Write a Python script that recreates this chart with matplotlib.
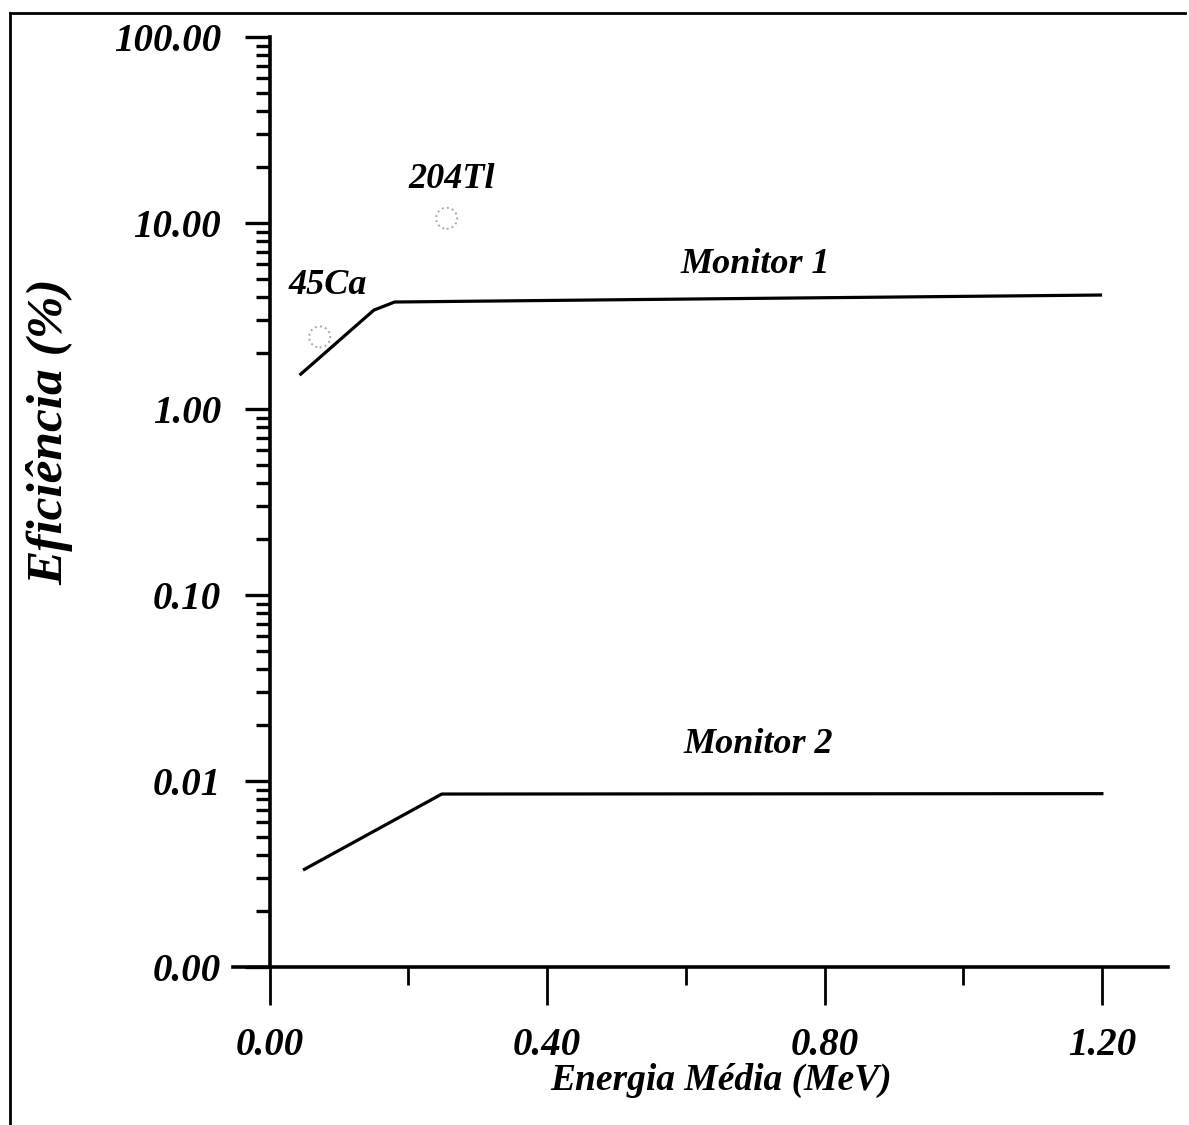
import matplotlib
matplotlib.use("Agg")
import matplotlib.pyplot as plt
from matplotlib.lines import Line2D
from matplotlib.ticker import FixedLocator, LogLocator, NullFormatter

# ---- data ----
m1_x = [0.043, 0.150, 0.180, 0.60, 1.20]
m1_y = [1.52, 3.40, 3.76, 3.90, 4.10]
m2_x = [0.048, 0.248, 0.70, 1.202]
m2_y = [0.00332, 0.00851, 0.00853, 0.00855]
pts_x = [0.072, 0.255]
pts_y = [2.44, 10.6]
pts_labels = ["45Ca", "204Tl"]
xticks = [0.0, 0.4, 0.8, 1.2]
xtick_labels = ["0.00", "0.40", "0.80", "1.20"]
yticks = [0.001, 0.01, 0.1, 1, 10, 100]
ytick_labels = ["0.00", "0.01", "0.10", "1.00", "10.00", "100.00"]
series_labels = ["Monitor 1", "Monitor 2"]

FONT = "Liberation Serif"
fkw = dict(family=FONT, weight="bold", style="italic")

fig = plt.figure(figsize=(11.89, 11.25), dpi=100)
ax = fig.add_axes([233/1189, 1-967/1125, (1168-233)/1189, (967-37)/1125])

ax.set_yscale("log")
ax.set_xlim(-0.053, 1.295)
ax.set_ylim(0.001, 100)

ax.plot(m1_x, m1_y, color="black", lw=2.3, solid_capstyle="butt", solid_joinstyle="round")
ax.plot(m2_x, m2_y, color="black", lw=2.3, solid_capstyle="butt")
ax.scatter(pts_x, pts_y, s=230, facecolors="none", edgecolors="#a8a8a8",
           linestyles=":", linewidths=1.4, zorder=3)

# annotations
ax.text(0.700, 4.85, series_labels[0], fontsize=26, ha="center", va="bottom", **fkw)
ax.text(0.704, 0.0128, series_labels[1], fontsize=26, ha="center", va="bottom", **fkw)
ax.text(0.083, 3.75, pts_labels[0], fontsize=26, ha="center", va="bottom", **fkw)
ax.text(0.263, 14.0, pts_labels[1], fontsize=26, ha="center", va="bottom", **fkw)

# spines
for s in ["top", "right"]:
    ax.spines[s].set_visible(False)
ax.spines["left"].set_position(("data", 0))
ax.spines["left"].set_linewidth(2.6)
ax.spines["bottom"].set_linewidth(2.6)

ax.xaxis.set_major_locator(FixedLocator(xticks))
ax.set_xticklabels(xtick_labels)
ax.xaxis.set_minor_locator(FixedLocator([0.2, 0.6, 1.0]))
ax.yaxis.set_major_locator(FixedLocator(yticks))
ax.set_yticklabels(ytick_labels)
ax.yaxis.set_minor_locator(LogLocator(base=10, subs=range(2, 10), numticks=20))
ax.yaxis.set_minor_formatter(NullFormatter())

ax.tick_params(axis="x", which="major", direction="out", length=27, width=2, pad=16)
ax.tick_params(axis="x", which="minor", direction="out", length=13, width=2)
ax.tick_params(axis="y", which="major", direction="out", length=18, width=2.4, pad=17)
ax.tick_params(axis="y", which="minor", direction="out", length=10, width=2.4)

for lab in ax.get_xticklabels() + ax.get_yticklabels():
    lab.set_fontfamily(FONT)
    lab.set_fontweight("bold")
    lab.set_fontstyle("italic")
    lab.set_fontsize(28)

fig.text(721/1189, 1-1080/1125, "Energia Média (MeV)", fontsize=27,
         ha="center", va="center", **fkw)
fig.text(50/1189, 1-432/1125, "Eficiência (%)", fontsize=37, rotation=90,
         ha="center", va="center", **fkw)

# frame lines around figure (top and left)
fig.add_artist(Line2D([10/1189, 1185/1189], [1-13/1125, 1-13/1125],
                      transform=fig.transFigure, color="black", lw=2))
fig.add_artist(Line2D([10/1189, 10/1189], [1-13/1125, 0],
                      transform=fig.transFigure, color="black", lw=2))

fig.savefig("out.png", dpi=100)
